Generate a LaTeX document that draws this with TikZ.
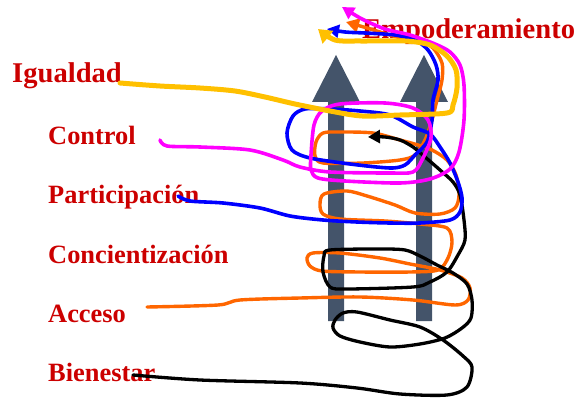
\documentclass[tikz,border=0pt]{standalone}
\usepackage{fontspec}
\setmainfont{Liberation Serif}
\usetikzlibrary{arrows.meta}
\definecolor{lblred}{HTML}{CC0000}
\definecolor{slate}{HTML}{44546A}
\definecolor{gold}{HTML}{FFC000}
\definecolor{orng}{HTML}{FF6600}
\definecolor{mgnt}{HTML}{FF00FF}
\definecolor{blu}{HTML}{0000FF}
\begin{document}
\begin{tikzpicture}[x=1pt,y=-1pt,
  lbl/.style={anchor=base west, inner sep=0pt, text=lblred, font=\fontsize{26.4}{30}\selectfont\bfseries},
  biglbl/.style={lbl, font=\fontsize{28.6}{32}\selectfont\bfseries},
  scribble/.style={line cap=round, line join=round},
  bigarrow/.style={fill=slate, draw=none}]
\useasboundingbox (0,0) rectangle (578,398);
% labels
\node[biglbl] (emp) at (362,39) {Empoderamiento};
\node[biglbl] (igu) at (12,83) {Igualdad};
\node[lbl] (con) at (48,145) {Control};
\node[lbl] (par) at (48,204) {Participación};
\node[lbl] (cnc) at (48,263) {Concientización};
\node[lbl] (acc) at (48,322) {Acceso};
\node[lbl] (bie) at (48,381) {Bienestar};
% grey arrows
\fill[bigarrow] (328,321) -- (328,102) -- (312,102) -- (336,55) -- (360,102) -- (344,102) -- (344,321) -- cycle;
\fill[bigarrow] (416,321) -- (416,102) -- (400,102) -- (424,55) -- (448,102) -- (432,102) -- (432,321) -- cycle;
% orange
\draw[scribble, orng, line width=3.4pt, -{Triangle[length=13pt,width=14pt]}] plot[smooth, tension=0.5] coordinates {
(147,307) (218,305) (240,300) (300,298) (360,297) (413,300) (455,305) (468,300) (470,288) (462,278) (440,270) (410,264) (380,258) (340,253) (313,253) (307,258) (310,266) (322,271) (360,272) (410,272) (438,270) (448,258) (452,242) (447,228) (420,224) (385,221) (340,219) (323,214) (320,204) (324,194) (347,191) (367,196) (395,205) (415,213) (440,214) (455,208) (459,195) (456,175) (447,160) (432,150) (418,145) (400,140) (373,133) (340,132) (323,133) (316,142) (315,156) (323,163) (363,163) (400,160) (415,155) (425,140) (432,120) (437,100) (442,80) (442,63) (433,48) (420,41) (397,37) (367,28) (346,22)};
% black
\draw[scribble, black, line width=3.3pt, -{Triangle[length=12pt,width=13pt]}] plot[smooth, tension=0.5] coordinates {
(133,375) (200,380) (300,383) (357,388) (400,394) (447,395) (467,387) (472,367) (463,356) (443,340) (420,327) (390,320) (357,312) (343,313) (335,320) (333,328) (340,336) (360,342) (390,347) (420,344) (445,338) (462,328) (471,318) (472,300) (467,284) (453,273) (437,265) (420,256) (405,250) (380,249) (330,250) (324,256) (323,272) (330,287) (347,289) (413,287) (430,282) (447,272) (458,255) (465,240) (464,220) (460,195) (453,182) (440,170) (425,157) (413,147) (400,140) (385,137) (368,137)};
% blue
\draw[scribble, blu, line width=3.6pt, -{Triangle[length=12pt,width=13pt]}] plot[smooth, tension=0.5] coordinates {
(178,196) (190,201) (223,203) (260,208) (290,216) (323,220) (357,222) (390,223) (420,223) (450,220) (460,212) (462,198) (458,182) (450,163) (440,147) (430,134) (413,127) (390,115) (360,111) (330,109) (305,109) (293,116) (287,133) (292,150) (310,158) (350,164) (390,168) (405,165) (415,155) (427,142) (432,120) (433,100) (438,80) (436,65) (428,50) (415,40) (395,35) (365,33) (345,32) (327,29)};
% magenta
\draw[scribble, mgnt, line width=3.6pt, -{Triangle[length=12pt,width=13pt]}] plot[smooth, tension=0.5] coordinates {
(160,140) (167,146) (200,147) (250,150) (283,160) (300,167) (330,172) (390,173) (413,172) (422,160) (431,138) (428,120) (413,108) (385,103) (340,104) (322,111) (314,125) (311,155) (311,170) (318,178) (345,181) (400,183) (430,179) (450,169) (459,152) (464,120) (464,85) (460,65) (450,52) (435,44) (410,35) (385,29) (362,19) (342,7)};
% yellow
\draw[scribble, gold, line width=5pt, -{Triangle[length=13pt,width=16pt]}] plot[smooth, tension=0.5] coordinates {
(120,83) (160,86) (200,88) (235,91) (265,97) (295,104) (330,111) (362,116) (400,115) (447,113) (453,105) (457,88) (456,70) (447,56) (430,45) (405,41) (360,41) (335,40) (318,29)};
\end{tikzpicture}
\end{document}
